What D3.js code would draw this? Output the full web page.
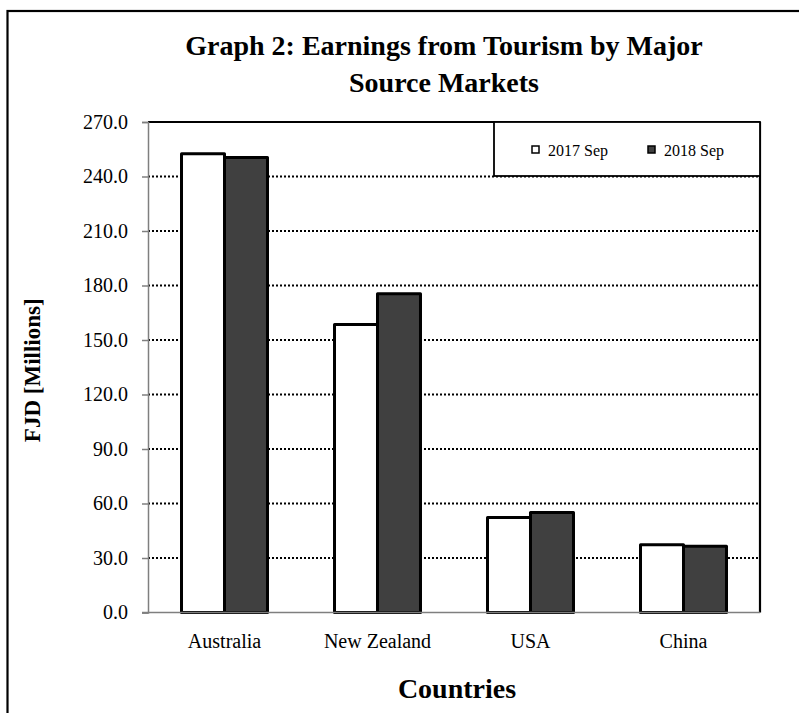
<!DOCTYPE html>
<html>
<head>
<meta charset="utf-8">
<script src="https://cdn.jsdelivr.net/npm/d3@7"></script>
<style>
  html, body { margin: 0; padding: 0; background: #fff; }
  svg { display: block; font-family: "Liberation Serif", "Times New Roman", serif; }
</style>
</head>
<body>
<svg id="chart" width="799" height="713"></svg>
<script>
// ---- data ----
const categories = ["Australia", "New Zealand", "USA", "China"];
const seriesNames = ["2017 Sep", "2018 Sep"];
const values2017 = [252.5, 158.5, 52.3, 37.3];
const values2018 = [250.5, 175.5, 55.0, 36.4];
const yTicks = [0, 30, 60, 90, 120, 150, 180, 210, 240, 270];
const titleLines = ["Graph 2: Earnings from Tourism by Major", "Source Markets"];
const yTitle = "FJD [Millions]";
const xTitle = "Countries";

const seriesValues = [values2017, values2018];
const colors = ["#ffffff", "#404040"];

const svg = d3.select("#chart");
const W = 799, H = 713;
const m = { left: 148, right: 760, top: 122, bottom: 612.5 };

// outer frame
svg.append("rect")
  .attr("x", 7.5).attr("y", 11).attr("width", W + 20).attr("height", H + 20)
  .attr("fill", "#fff").attr("stroke", "#000").attr("stroke-width", 2.2);

// scales
const x0 = d3.scaleBand().domain(categories).range([m.left, m.right])
  .paddingInner(0.438).paddingOuter(0.219);
const x1 = d3.scaleBand().domain(seriesNames).range([0, x0.bandwidth()]).padding(0);
const y = d3.scaleLinear().domain([0, 270]).range([m.bottom, m.top]);

// gridlines
svg.append("g").selectAll("line")
  .data(yTicks.filter(t => t > 0 && t < 270))
  .join("line")
  .attr("x1", m.left).attr("x2", m.right)
  .attr("y1", d => y(d)).attr("y2", d => y(d))
  .attr("stroke", "#000").attr("stroke-width", 2)
  .attr("stroke-dasharray", "2,2");

// top & right frame of plot area
svg.append("line").attr("x1", m.left).attr("x2", m.right)
  .attr("y1", m.top).attr("y2", m.top).attr("stroke", "#000").attr("stroke-width", 2.2);
svg.append("line").attr("x1", m.right).attr("x2", m.right)
  .attr("y1", m.top).attr("y2", m.bottom).attr("stroke", "#000").attr("stroke-width", 2.2);

// bars
const groups = svg.append("g").selectAll("g")
  .data(categories)
  .join("g")
  .attr("transform", d => `translate(${x0(d)},0)`);
groups.selectAll("rect")
  .data((d, i) => seriesNames.map((s, j) => ({ s, j, v: seriesValues[j][i] })))
  .join("rect")
  .attr("x", d => x1(d.s))
  .attr("width", x1.bandwidth())
  .attr("y", d => y(d.v))
  .attr("height", d => y(0) - y(d.v))
  .attr("fill", d => colors[d.j])
  .attr("stroke", "#000")
  .attr("stroke-width", 3)
  .attr("stroke-linejoin", "round");

// y axis
const yAxis = d3.axisLeft(y).tickValues(yTicks).tickFormat(d3.format(".1f"))
  .tickSize(6).tickPadding(14);
const gy = svg.append("g").attr("transform", `translate(${m.left},0)`).call(yAxis);
gy.attr("font-family", null);
gy.select(".domain").attr("stroke", "#7f7f7f").attr("stroke-width", 1.5);
gy.selectAll(".tick line").attr("stroke", "#7f7f7f").attr("stroke-width", 1.5);
gy.selectAll(".tick text")
  .attr("font-family", "Liberation Serif").attr("font-size", 20).attr("fill", "#000");

// x axis
const xAxis = d3.axisBottom(x0).tickSize(0).tickPadding(21);
const gx = svg.append("g").attr("transform", `translate(0,${m.bottom})`).call(xAxis);
gx.attr("font-family", null);
gx.select(".domain").attr("stroke", "#7f7f7f").attr("stroke-width", 1.5)
  .attr("d", `M${m.left - 6},0H${m.right}`);
gx.selectAll(".tick text")
  .attr("font-family", "Liberation Serif").attr("font-size", 20).attr("fill", "#000");

// legend
const lg = svg.append("g");
lg.append("rect").attr("x", 494).attr("y", m.top).attr("width", m.right - 494).attr("height", 54)
  .attr("fill", "#fff").attr("stroke", "#000").attr("stroke-width", 1.8);
const legX = [532, 648];
seriesNames.forEach((s, j) => {
  lg.append("rect").attr("x", legX[j]).attr("y", 146).attr("width", 7).attr("height", 7)
    .attr("fill", colors[j]).attr("stroke", "#000").attr("stroke-width", 1.5);
  lg.append("text").attr("x", legX[j] + 16).attr("y", 155.5)
    .attr("font-size", 16).attr("fill", "#000").text(s);
});

// titles
svg.append("g").selectAll("text").data(titleLines).join("text")
  .attr("x", 444).attr("y", (d, i) => 55 + i * 37)
  .attr("text-anchor", "middle").attr("font-weight", "bold").attr("font-size", 28)
  .attr("fill", "#000").text(d => d);

svg.append("text")
  .attr("transform", `translate(40,${(m.top + m.bottom) / 2 + 3}) rotate(-90)`)
  .attr("text-anchor", "middle").attr("font-weight", "bold").attr("font-size", 23)
  .attr("fill", "#000").text(yTitle);

svg.append("text")
  .attr("x", 457).attr("y", 698)
  .attr("text-anchor", "middle").attr("font-weight", "bold").attr("font-size", 28)
  .attr("fill", "#000").text(xTitle);
</script>
</body>
</html>
